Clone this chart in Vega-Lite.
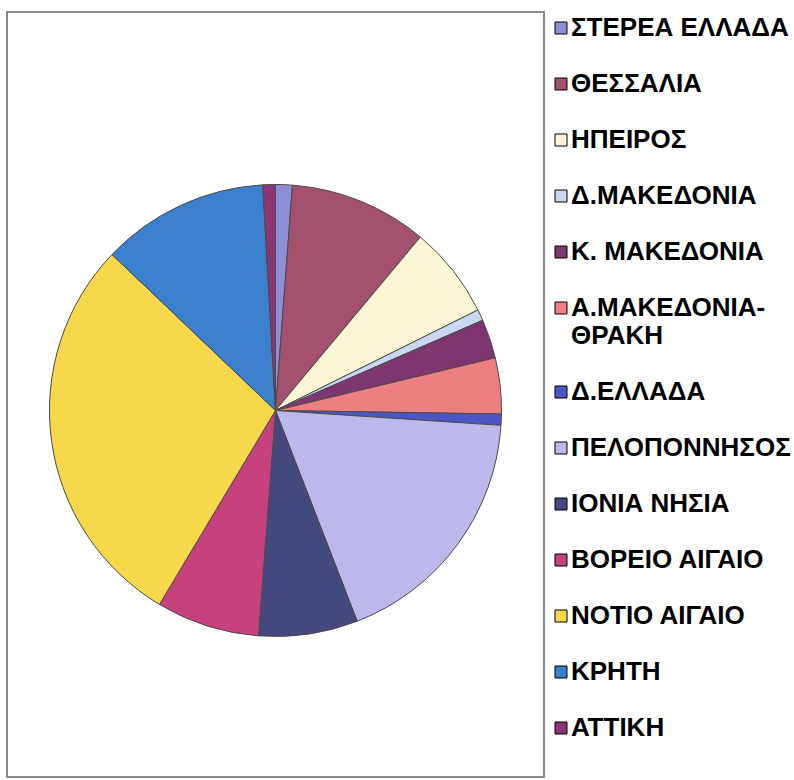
{
  "$schema": "https://vega.github.io/schema/vega-lite/v6.json",
  "width": 537,
  "height": 765,
  "autosize": "none",
  "padding": {"left": 7, "top": 12, "right": 250, "bottom": 3},
  "background": "white",
  "view": {"stroke": "#8a8a8a", "strokeWidth": 2, "fill": "white"},
  "data": {
    "values": [
      {"n": 1, "region": "ΣΤΕΡΕΑ ΕΛΛΑΔΑ", "share": 1.2},
      {"n": 2, "region": "ΘΕΣΣΑΛΙΑ", "share": 9.9},
      {"n": 3, "region": "ΗΠΕΙΡΟΣ", "share": 6.6},
      {"n": 4, "region": "Δ.ΜΑΚΕΔΟΝΙΑ", "share": 0.8},
      {"n": 5, "region": "Κ. ΜΑΚΕΔΟΝΙΑ", "share": 2.8},
      {"n": 6, "region": "Α.ΜΑΚΕΔΟΝΙΑ-ΘΡΑΚΗ", "share": 4.0},
      {"n": 7, "region": "Δ.ΕΛΛΑΔΑ", "share": 0.8},
      {"n": 8, "region": "ΠΕΛΟΠΟΝΝΗΣΟΣ", "share": 18.1},
      {"n": 9, "region": "ΙΟΝΙΑ ΝΗΣΙΑ", "share": 7.1},
      {"n": 10, "region": "ΒΟΡΕΙΟ ΑΙΓΑΙΟ", "share": 7.4},
      {"n": 11, "region": "ΝΟΤΙΟ ΑΙΓΑΙΟ", "share": 28.6},
      {"n": 12, "region": "ΚΡΗΤΗ", "share": 12.0},
      {"n": 13, "region": "ΑΤΤΙΚΗ", "share": 0.9}
    ]
  },
  "mark": {"type": "arc", "outerRadius": 226, "stroke": "#4a4a4a", "strokeWidth": 1, "yOffset": 16},
  "encoding": {
    "theta": {"field": "share", "type": "quantitative", "stack": true},
    "order": {"field": "n", "type": "quantitative"},
    "color": {
      "field": "region",
      "type": "nominal",
      "sort": null,
      "scale": {
        "domain": ["ΣΤΕΡΕΑ ΕΛΛΑΔΑ", "ΘΕΣΣΑΛΙΑ", "ΗΠΕΙΡΟΣ", "Δ.ΜΑΚΕΔΟΝΙΑ", "Κ. ΜΑΚΕΔΟΝΙΑ", "Α.ΜΑΚΕΔΟΝΙΑ-ΘΡΑΚΗ", "Δ.ΕΛΛΑΔΑ", "ΠΕΛΟΠΟΝΝΗΣΟΣ", "ΙΟΝΙΑ ΝΗΣΙΑ", "ΒΟΡΕΙΟ ΑΙΓΑΙΟ", "ΝΟΤΙΟ ΑΙΓΑΙΟ", "ΚΡΗΤΗ", "ΑΤΤΙΚΗ"],
        "range": ["#8C8FD8", "#A4506F", "#FBF6D5", "#C9D8F0", "#7E3670", "#EE7F80", "#4A55C8", "#BDB8EC", "#45487E", "#C8417F", "#F6D84A", "#3A80CC", "#8B3575"]
      },
      "legend": {
        "title": null,
        "orient": "none",
        "legendX": 541,
        "legendY": 3,
        "padding": 0,
        "symbolType": "square",
        "symbolSize": 144,
        "symbolStrokeColor": "#000000",
        "symbolStrokeWidth": 1,
        "labelFont": "Liberation Sans",
        "labelFontSize": 26,
        "labelFontWeight": "bold",
        "labelColor": "#000000",
        "labelOffset": -3,
        "labelLimit": 300,
        "rowPadding": 30,
        "labelExpr": "datum.label == 'Α.ΜΑΚΕΔΟΝΙΑ-ΘΡΑΚΗ' ? ['Α.ΜΑΚΕΔΟΝΙΑ-', 'ΘΡΑΚΗ'] : datum.label"
      }
    }
  },
  "config": {
    "view": {"stroke": "#8a8a8a", "strokeWidth": 2},
    "style": {"cell": {"stroke": "#8a8a8a", "strokeWidth": 2}}
  }
}
